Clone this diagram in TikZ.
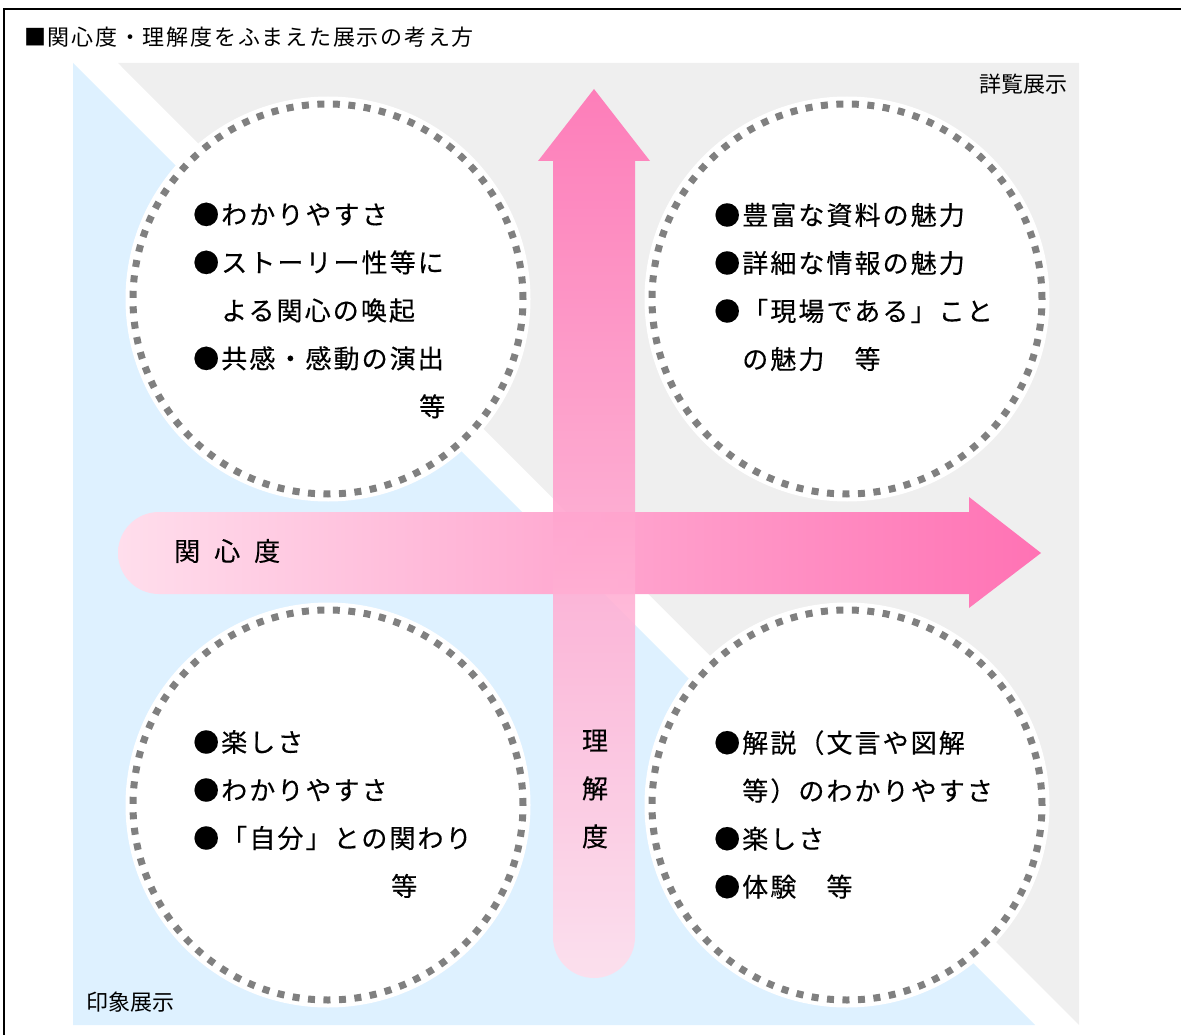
\documentclass[tikz,border=0pt]{standalone}
\usepackage{fontspec}
\usepackage{xcolor}
\usepackage{tikz}
\usetikzlibrary{positioning,calc}
\newfontfamily\jpfont[LetterSpace=8,FakeBold=0.3]{Noto Sans CJK JP}
\newfontfamily\jptitle[LetterSpace=8]{Noto Sans CJK JP}
\newfontfamily\jpplain{Noto Sans CJK JP}

\definecolor{bgGray}{RGB}{239,239,239}
\definecolor{bgBlue}{RGB}{222,241,255}
\definecolor{pinkLight}{RGB}{255,222,236}
\definecolor{pinkHot}{RGB}{255,114,180}
\definecolor{dotGray}{RGB}{128,128,128}

\tikzset{
  ring/.style={circle, minimum size=390pt, inner sep=0pt,
    draw=dotGray, line width=7pt, dash pattern=on 7pt off 8.5pt,
    preaction={fill=white, draw=white, line width=15pt, solid}},
  itemtext/.style={anchor=west, inner sep=0pt, align=left,
    font=\jpfont\fontsize{26}{48}\selectfont},
  cornerlabel/.style={inner sep=0pt, font=\jpplain\fontsize{22}{26}\selectfont}
}

\begin{document}
\begin{tikzpicture}[x=1pt, y=-1pt]
  \useasboundingbox (0,0) rectangle (1181,1035);

  % Frame and title
  \draw[line width=2pt] (4,9) rectangle (1200,1060);
  \node[anchor=west, inner sep=0pt, font=\jptitle\fontsize{22}{26}\selectfont]
    (title) at (24,37) {■関心度・理解度をふまえた展示の考え方};

  % Background triangles (drawn first)
  \fill[bgGray] (118,63) -- (1079,63) -- (1079,1025) -- cycle;
  \fill[bgBlue] (73,63) -- (1035,1025) -- (73,1025) -- cycle;
  \node[cornerlabel, anchor=east] (detail) at (1068,84) {詳覧展示};
  \node[cornerlabel, anchor=west] (impression) at (86,1002) {印象展示};

  % Dotted circles
  \node[ring] (tlRing) at (328,299) {};
  \node[ring] (trRing) at (847,299) {};
  \node[ring] (blRing) at (328,805) {};
  \node[ring] (brRing) at (847,805) {};

  % Interest arrow (horizontal)
  \shade[left color=pinkLight, right color=pinkHot]
    (159,512) -- (969,512) -- (969,497) -- (1041,553) -- (969,608)
    -- (969,594) -- (159,594) arc[start angle=90, end angle=270, radius=41]
    -- cycle;
  \node[anchor=west, inner sep=0pt, font=\jpfont\fontsize{26}{30}\selectfont]
    (interest) at (174,551) {関\hspace{14pt}心\hspace{14pt}度};

  % Understanding arrow (vertical)
  \shade[bottom color=pinkLight, top color=pinkHot, opacity=0.9]
    (553,937) -- (553,161) -- (538,161) -- (594,89) -- (650,161)
    -- (635,161) -- (635,937) arc[start angle=0, end angle=180, radius=41]
    -- cycle;
  \node[inner sep=0pt, align=center, font=\jpfont\fontsize{26}{48}\selectfont]
    (understanding) at (595,789) {理\\解\\度};

  % Circle texts
  \node[itemtext] (tlText) at (193,310.5)
    {●わかりやすさ\\●ストーリー性等に\\　よる関心の喚起\\●共感・感動の演出\\\hspace*{226pt}等};
  \node[itemtext] (trText) at (714,287)
    {●豊富な資料の魅力\\●詳細な情報の魅力\\●「現場である」こと\\　の魅力　等};
  \node[itemtext] (blText) at (193,814)
    {●楽しさ\\●わかりやすさ\\●「自分」との関わり\\\hspace*{198pt}等};
  \node[itemtext] (brText) at (714,814.5)
    {●解説（文言や図解\\　等）のわかりやすさ\\●楽しさ\\●体験　等};
\end{tikzpicture}
\end{document}
